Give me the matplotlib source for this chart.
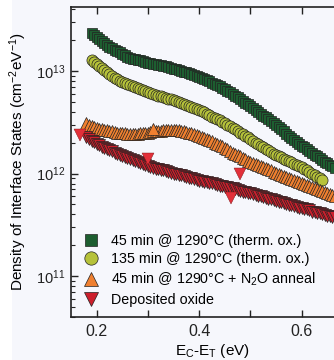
import numpy as np
import matplotlib.pyplot as plt
from matplotlib.ticker import LogLocator, MultipleLocator, NullFormatter
from matplotlib.patches import Rectangle

plt.rcParams['font.family'] = ['Liberation Sans', 'DejaVu Sans']
plt.rcParams['mathtext.fontset'] = 'custom'
plt.rcParams['mathtext.rm'] = 'Liberation Sans'
plt.rcParams['mathtext.it'] = 'Liberation Sans:italic'

# --- data ---
# shared energy grid E_C - E_T (eV)
energy = [0.180, 0.185, 0.190, 0.195, 0.200, 0.205, 0.210, 0.215, 0.220, 0.225,
          0.230, 0.235, 0.240, 0.245, 0.250, 0.255, 0.260, 0.265, 0.270, 0.275,
          0.280, 0.285, 0.290, 0.295, 0.300, 0.305, 0.310, 0.315, 0.320, 0.325,
          0.330, 0.335, 0.340, 0.345, 0.350, 0.355, 0.360, 0.365, 0.370, 0.375,
          0.380, 0.385, 0.390, 0.395, 0.400, 0.405, 0.410, 0.415, 0.420, 0.425,
          0.430, 0.435, 0.440, 0.445, 0.450, 0.455, 0.460, 0.465, 0.470, 0.475,
          0.480, 0.485, 0.490, 0.495, 0.500, 0.505, 0.510, 0.515, 0.520, 0.525,
          0.530, 0.535, 0.540, 0.545, 0.550, 0.555, 0.560, 0.565, 0.570, 0.575,
          0.580, 0.585, 0.590, 0.595, 0.600, 0.605, 0.610, 0.615, 0.620, 0.625,
          0.630, 0.635, 0.640, 0.645, 0.650, 0.655, 0.660, 0.665]

# log10 of D_it (cm^-2 eV^-1)
green_log = [13.37, 13.35, 13.33, 13.31, 13.29, 13.27, 13.25, 13.235,
             13.22, 13.205, 13.19, 13.18, 13.17, 13.155, 13.14, 13.13, 13.12, 13.115,
             13.11, 13.105, 13.10, 13.09, 13.08, 13.075, 13.07, 13.065, 13.06, 13.055,
             13.05, 13.045, 13.04, 13.03, 13.02, 13.015, 13.01, 13.00, 12.99, 12.985,
             12.98, 12.97, 12.96, 12.95, 12.94, 12.93, 12.92, 12.91, 12.90, 12.885,
             12.87, 12.86, 12.85, 12.835, 12.82, 12.805, 12.79, 12.775, 12.76, 12.745,
             12.73, 12.71, 12.69, 12.675, 12.66, 12.64, 12.62, 12.60, 12.58, 12.565,
             12.55, 12.53, 12.51, 12.49, 12.47, 12.45, 12.43, 12.41, 12.39, 12.37,
             12.35, 12.33, 12.31, 12.29, 12.27, 12.255, 12.24, 12.22, 12.20, 12.185,
             12.17, 12.15, 12.13, 12.115, 12.10, 12.085, 12.07, 12.055]

yellow_log = [13.11, 13.09, 13.07, 13.05, 13.03, 13.01, 12.99, 12.97,
              12.95, 12.935, 12.92, 12.905, 12.89, 12.88, 12.87, 12.86, 12.85, 12.84,
              12.83, 12.82, 12.81, 12.80, 12.79, 12.785, 12.78, 12.77, 12.76, 12.755,
              12.75, 12.74, 12.73, 12.725, 12.72, 12.71, 12.70, 12.69, 12.68, 12.67,
              12.66, 12.65, 12.64, 12.63, 12.62, 12.61, 12.60, 12.585, 12.57, 12.555,
              12.54, 12.53, 12.52, 12.505, 12.49, 12.475, 12.46, 12.445, 12.43, 12.415,
              12.40, 12.385, 12.37, 12.355, 12.34, 12.32, 12.30, 12.285, 12.27, 12.255,
              12.24, 12.225, 12.21, 12.195, 12.18, 12.17, 12.16, 12.145, 12.13, 12.12,
              12.11, 12.095, 12.08, 12.07, 12.06, 12.045, 12.03, 12.015, 12.00, 11.985,
              11.97, 11.955, 11.94]

orange_log = [12.49, 12.475, 12.46, 12.45, 12.44, 12.435, 12.43, 12.425, 12.42, 12.415,
              12.41, 12.405, 12.40, 12.40, 12.40, 12.395, 12.39, 12.39, 12.39, 12.39,
              12.39, 12.395, 12.40, 12.40, 12.40, 12.405, 12.41, 12.41, 12.41, 12.415,
              12.42, 12.42, 12.42, 12.42, 12.42, 12.42, 12.42, 12.415, 12.41, 12.405,
              12.40, 12.395, 12.39, 12.38, 12.37, 12.36, 12.35, 12.34, 12.33, 12.315,
              12.30, 12.29, 12.28, 12.265, 12.25, 12.235, 12.22, 12.205, 12.19, 12.18,
              12.17, 12.155, 12.14, 12.125, 12.11, 12.10, 12.09, 12.08, 12.07, 12.06,
              12.05, 12.04, 12.03, 12.02, 12.01, 12.00, 11.99, 11.98, 11.97, 11.96,
              11.95, 11.94, 11.93, 11.92, 11.91, 11.90, 11.89, 11.88, 11.87, 11.86,
              11.85, 11.84, 11.83, 11.82, 11.81, 11.80, 11.79, 11.78]
orange_extra_x = [0.31]
orange_extra_log = [12.43]

red_log = [12.36, 12.34, 12.32, 12.305, 12.29, 12.275, 12.26, 12.25, 12.24, 12.23,
           12.22, 12.205, 12.19, 12.18, 12.17, 12.16, 12.15, 12.14, 12.13, 12.12,
           12.11, 12.10, 12.09, 12.08, 12.07, 12.06, 12.05, 12.045, 12.04, 12.035,
           12.03, 12.025, 12.02, 12.01, 12.00, 11.995, 11.99, 11.985, 11.98, 11.97,
           11.96, 11.955, 11.95, 11.94, 11.93, 11.925, 11.92, 11.915, 11.91, 11.905,
           11.90, 11.89, 11.88, 11.875, 11.87, 11.865, 11.86, 11.855, 11.85, 11.84,
           11.83, 11.825, 11.82, 11.815, 11.81, 11.80, 11.79, 11.785, 11.78, 11.77,
           11.76, 11.755, 11.75, 11.74, 11.73, 11.725, 11.72, 11.71, 11.70, 11.695,
           11.69, 11.68, 11.67, 11.665, 11.66, 11.655, 11.65, 11.64, 11.63, 11.625,
           11.62, 11.615, 11.61, 11.60, 11.59, 11.585, 11.58, 11.575]
red_extra_x = [0.167, 0.30, 0.479, 0.463]
red_extra_log = [12.38, 12.14, 12.00, 11.76]

labels = ['45 min @ 1290°C (therm. ox.)',
          '135 min @ 1290°C (therm. ox.)',
          '45 min @ 1290°C + N$_2$O anneal',
          'Deposited oxide']

green_x = energy[2:]
yellow_x = energy[2:93]
orange_x = energy
red_x = energy

c_green = '#1d5e30'
c_yellow = '#b6c23a'
c_orange = '#f08030'
c_red = '#e2303a'
bg = '#f6f7fc'

fig = plt.figure(figsize=(3.34, 3.6), dpi=100, facecolor=bg)
fig.patches.append(Rectangle((0, 0), 12 / 334, 1, transform=fig.transFigure,
                             facecolor='white', edgecolor='none', zorder=-1))
ax = fig.add_axes([71 / 334, 1 - 317 / 360, 282 / 334, 310 / 360])
ax.set_facecolor(bg)

ek = dict(markeredgecolor='#222222', markeredgewidth=0.5, linestyle='none')
ax.plot(green_x, 10 ** np.array(green_log), marker='s', ms=7, color=c_green, label=labels[0], **ek)
ax.plot(yellow_x, 10 ** np.array(yellow_log), marker='o', ms=8, color=c_yellow, label=labels[1], **ek)
ax.plot(orange_x, 10 ** np.array(orange_log), marker='^', ms=8, color=c_orange, label=labels[2], **ek)
ax.plot(orange_extra_x, 10 ** np.array(orange_extra_log), marker='^', ms=8.5, color=c_orange, **ek)
ax.plot(red_x, 10 ** np.array(red_log), marker='v', ms=8, color='#cc1f2c', label=labels[3], **ek)
ax.plot(red_extra_x, 10 ** np.array(red_extra_log), marker='v', ms=9, color=c_red,
        markeredgecolor='#7a1010', markeredgewidth=0.3, linestyle='none')

ax.set_yscale('log')
ax.set_xlim(0.15, 0.70)
ax.set_ylim(4e10, 4.2e13)

ax.xaxis.set_major_locator(MultipleLocator(0.2))
ax.xaxis.set_minor_locator(MultipleLocator(0.1))
ax.yaxis.set_major_locator(LogLocator(base=10, numticks=10))
ax.yaxis.set_minor_locator(LogLocator(base=10, subs=np.arange(2, 10), numticks=10))
ax.yaxis.set_minor_formatter(NullFormatter())

ax.tick_params(which='both', direction='in', top=True, right=True, colors='#222222')
ax.tick_params(which='major', length=5, width=1.0)
ax.tick_params(which='minor', length=3, width=0.8)
ax.tick_params(axis='x', which='minor', length=5, width=1.0)
ax.tick_params(axis='x', labelsize=11.5, pad=5)
ax.tick_params(axis='y', labelsize=10.5, pad=4)
for s in ax.spines.values():
    s.set_linewidth(1.2)
    s.set_color('#222222')

ax.set_xlabel('E$_\\mathregular{C}$-E$_\\mathregular{T}$ (eV)', fontsize=11, labelpad=2)
ax.set_ylabel('Density of Interface States (cm$^{-2}$eV$^{-1}$)', fontsize=11, labelpad=5)

leg = ax.legend(loc='lower left', bbox_to_anchor=(0.01, 0.0), frameon=False, fontsize=10.3,
                numpoints=1, markerscale=1.2, handlelength=1.0, handletextpad=0.9,
                labelspacing=0.32, borderaxespad=0.3)

fig.savefig('out.png', dpi=100, facecolor=fig.get_facecolor())
